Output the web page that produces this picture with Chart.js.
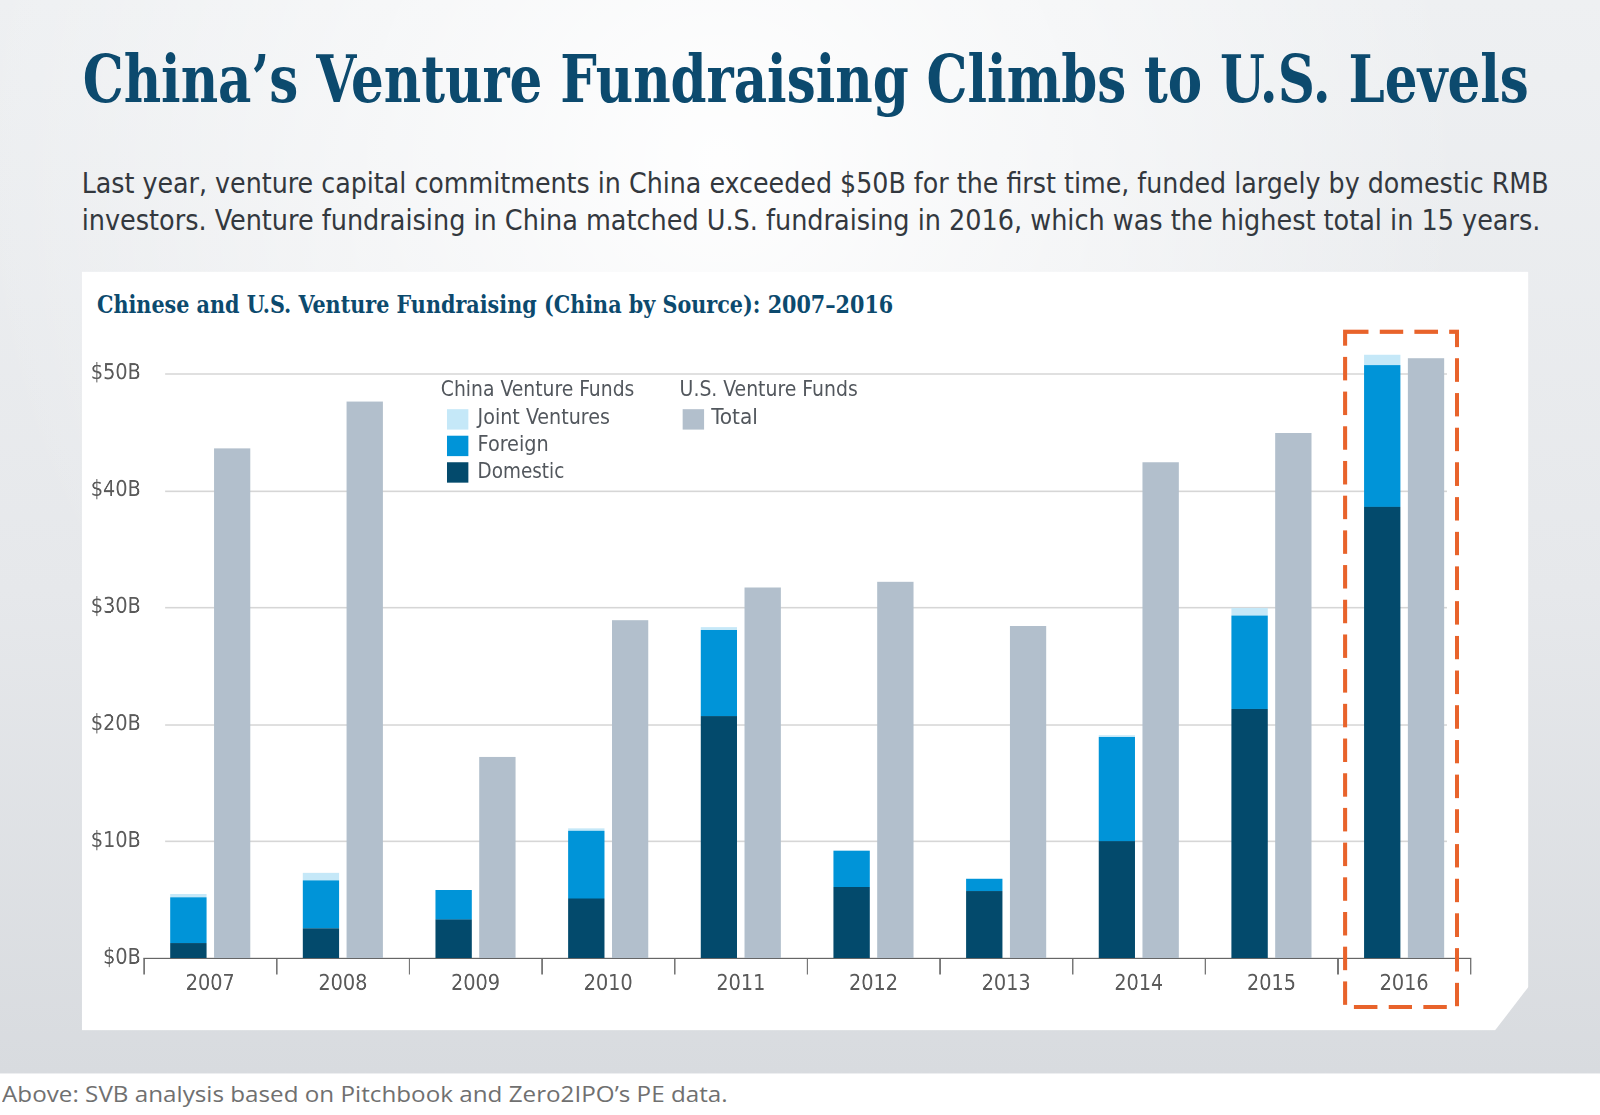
<!DOCTYPE html>
<html>
<head>
<meta charset="utf-8">
<script src="https://cdn.jsdelivr.net/npm/chart.js@4.4.1/dist/chart.umd.min.js"></script>
<style>
  html, body { margin: 0; padding: 0; background: #fff; width: 1600px; height: 1115px; overflow: hidden; }
  #outer { position: relative; width: 1600px; height: 1115px; overflow: hidden; background: #fff; }
  /* layout is measured on a 1568-wide grid, then scaled up to the 1600 window */
  #page {
    position: absolute; left: 0; top: 0; width: 1568px; height: 1093px; background: #fff;
    transform: scale(1.020408); transform-origin: 0 0;
  }
  #bg {
    position: absolute; left: 0; top: 0; width: 1568px; height: 1052px;
    background:
      radial-gradient(ellipse at 45% 15%, rgba(255,255,255,0.95) 0%, rgba(255,255,255,0) 60%),
      linear-gradient(180deg, #eef0f2 0%, #e6e8eb 55%, #d8dbdf 100%);
  }
  .t { position: absolute; white-space: nowrap; transform-origin: 0 0; line-height: 1; }
  #title {
    left: 81px; top: 46px; font-family: "DejaVu Serif Condensed", "DejaVu Serif", serif;
    font-weight: bold; font-size: 64px; color: #0c4a6e;
  }
  .sub {
    left: 80px; font-family: "DejaVu Sans Condensed", "DejaVu Sans", sans-serif;
    font-size: 27px; color: #33383e;
  }
  #panel {
    position: absolute; left: 80px; top: 266px; width: 1418px; height: 744px; background: #fff;
    clip-path: polygon(0 0, 100% 0, 100% 701px, 1385px 100%, 0 100%);
  }
  #chartTitle {
    left: 95px; top: 287px; font-family: "DejaVu Serif Condensed", "DejaVu Serif", serif;
    font-weight: bold; font-size: 24px; color: #0c4a6e;
  }
  #wrap { position: absolute; left: 80px; top: 266px; width: 1418px; height: 744px; }
  .lg { font-family: "DejaVu Sans Condensed", "DejaVu Sans", sans-serif; font-size: 21px; color: #52575d; }
  .sw { position: absolute; width: 21px; height: 20px; }
  #caption {
    left: 2px; top: 1060px; font-family: "Open Sans", sans-serif; font-weight: 400;
    font-size: 22px; color: #707070;
  }
</style>
</head>
<body>
<div id="outer">
<div id="page">
  <div id="bg"></div>
  <div class="t" id="title" data-w="1417">China’s Venture Fundraising Climbs to U.S. Levels</div>
  <div class="t sub" style="top:166px" data-w="1438">Last year, venture capital commitments in China exceeded $50B for the first time, funded largely by domestic RMB</div>
  <div class="t sub" style="top:202px" data-w="1430">investors. Venture fundraising in China matched U.S. fundraising in 2016, which was the highest total in 15 years.</div>
  <div id="panel"></div>
  <div class="t" id="chartTitle" data-w="780">Chinese and U.S. Venture Fundraising (China by Source): 2007–2016</div>
  <div id="wrap"><canvas id="chart"></canvas></div>
  <div id="legend"></div>
  <div class="t" id="caption" data-w="711">Above: SVB analysis based on Pitchbook and Zero2IPO’s PE data.</div>
</div>
</div>

<script>
// values in $B
const years = ["2007", "2008", "2009", "2010", "2011", "2012", "2013", "2014", "2015", "2016"];
const domestic = [1.3, 2.55, 3.3, 5.1, 20.7, 6.1, 5.75, 10.0, 21.3, 38.6];
const foreign = [3.9, 4.1, 2.55, 5.8, 7.35, 3.1, 1.05, 8.9, 8.0, 12.1];
const jointVentures = [0.3, 0.65, 0, 0.2, 0.25, 0, 0, 0.15, 0.65, 0.9];
const usTotal = [43.6, 47.6, 17.2, 28.9, 31.7, 32.2, 28.4, 42.4, 44.9, 51.3];
const yTicks = [0, 10, 20, 30, 40, 50];
const highlightYear = "2016";

const colors = {
  domestic: "#034a6c",
  foreign: "#0094d8",
  jv: "#c5e8f8",
  us: "#b2bfcc"
};

// squeeze text to the widths in the picture
document.querySelectorAll("[data-w]").forEach(el => {
  const w = +el.dataset.w;
  el.style.transform = "scaleX(" + (w / el.offsetWidth) + ")";
});

// legend, two groups
const legend = document.getElementById("legend");
function addText(txt, x, y, w) {
  const d = document.createElement("div");
  d.className = "t lg";
  d.style.left = x + "px";
  d.style.top = y + "px";
  d.textContent = txt;
  legend.appendChild(d);
  d.style.transform = "scaleX(" + (w / d.offsetWidth) + ")";
}
function addSwatch(color, x, y) {
  const d = document.createElement("div");
  d.className = "sw";
  d.style.left = x + "px";
  d.style.top = y + "px";
  d.style.background = color;
  legend.appendChild(d);
}
addText("China Venture Funds", 432, 371, 190);
addText("U.S. Venture Funds", 666, 371, 175);
addSwatch(colors.jv, 438, 401);
addText("Joint Ventures", 468, 399, 130);
addSwatch(colors.foreign, 438, 427);
addText("Foreign", 468, 425, 70);
addSwatch(colors.domestic, 438, 453);
addText("Domestic", 468, 451, 85);
addSwatch(colors.us, 669, 401);
addText("Total", 697, 399, 46);

const tickFont = { family: "'DejaVu Sans Condensed', 'DejaVu Sans', sans-serif", size: 21 };

// y gridlines stop short of the axis ends, plus the dashed box round 2016
const decor = {
  id: "decor",
  beforeDatasetsDraw(chart) {
    const { ctx, chartArea, scales: { y } } = chart;
    ctx.save();
    ctx.strokeStyle = "#d6d6d6";
    ctx.lineWidth = 1.5;
    yTicks.forEach(v => {
      if (v === 0) return;
      const py = Math.round(y.getPixelForValue(v)) + 0.5;
      ctx.beginPath();
      ctx.moveTo(chartArea.left + 21, py);
      ctx.lineTo(chartArea.right - 23, py);
      ctx.stroke();
    });
    ctx.restore();
  },
  afterDraw(chart) {
    const { ctx, chartArea, scales: { x, y } } = chart;
    const i = years.indexOf(highlightYear);
    const cw = x.getPixelForValue(1) - x.getPixelForValue(0);
    const cx = x.getPixelForValue(i);
    ctx.save();
    ctx.strokeStyle = "#e8632b";
    ctx.lineWidth = 4;
    ctx.setLineDash([23, 11]);
    const left = cx - cw * 0.445;
    const right = cx + cw * 0.40;
    const top = y.getPixelForValue(50) - 41;
    const bottom = chartArea.bottom + 48;
    ctx.strokeRect(left, top, right - left, bottom - top);
    ctx.restore();
  }
};

new Chart(document.getElementById("chart"), {
  type: "bar",
  data: {
    labels: years,
    datasets: [
      { label: "Domestic", data: domestic, backgroundColor: colors.domestic, stack: "china" },
      { label: "Foreign", data: foreign, backgroundColor: colors.foreign, stack: "china" },
      { label: "Joint Ventures", data: jointVentures, backgroundColor: colors.jv, stack: "china" },
      { label: "Total", data: usTotal, backgroundColor: colors.us, stack: "us" }
    ]
  },
  options: {
    responsive: true,
    maintainAspectRatio: false,
    animation: false,
    devicePixelRatio: 2,
    clip: false,
    layout: { padding: { left: 0, top: 100, right: 57, bottom: 0 } },
    categoryPercentage: 0.66,
    barPercentage: 0.83,
    plugins: { legend: { display: false }, tooltip: { enabled: false } },
    scales: {
      x: {
        stacked: true,
        grid: { drawOnChartArea: false, drawTicks: true, tickLength: 16, color: "#777", lineWidth: 1.5 },
        border: { display: true, color: "#666", width: 1.5 },
        ticks: { color: "#5a5a5a", font: tickFont, padding: -3 },
        afterFit(s) { s.height = 71; }
      },
      y: {
        stacked: true,
        min: 0,
        max: 50,
        afterBuildTicks(s) { s.ticks = yTicks.map(v => ({ value: v })); },
        grid: { display: false, drawTicks: false },
        border: { display: false },
        ticks: {
          color: "#5a5a5a", font: tickFont, padding: 3,
          callback: v => "$" + v + "B"
        },
        afterFit(s) { s.width = 61; }
      }
    }
  },
  plugins: [decor]
});
</script>
</body>
</html>
